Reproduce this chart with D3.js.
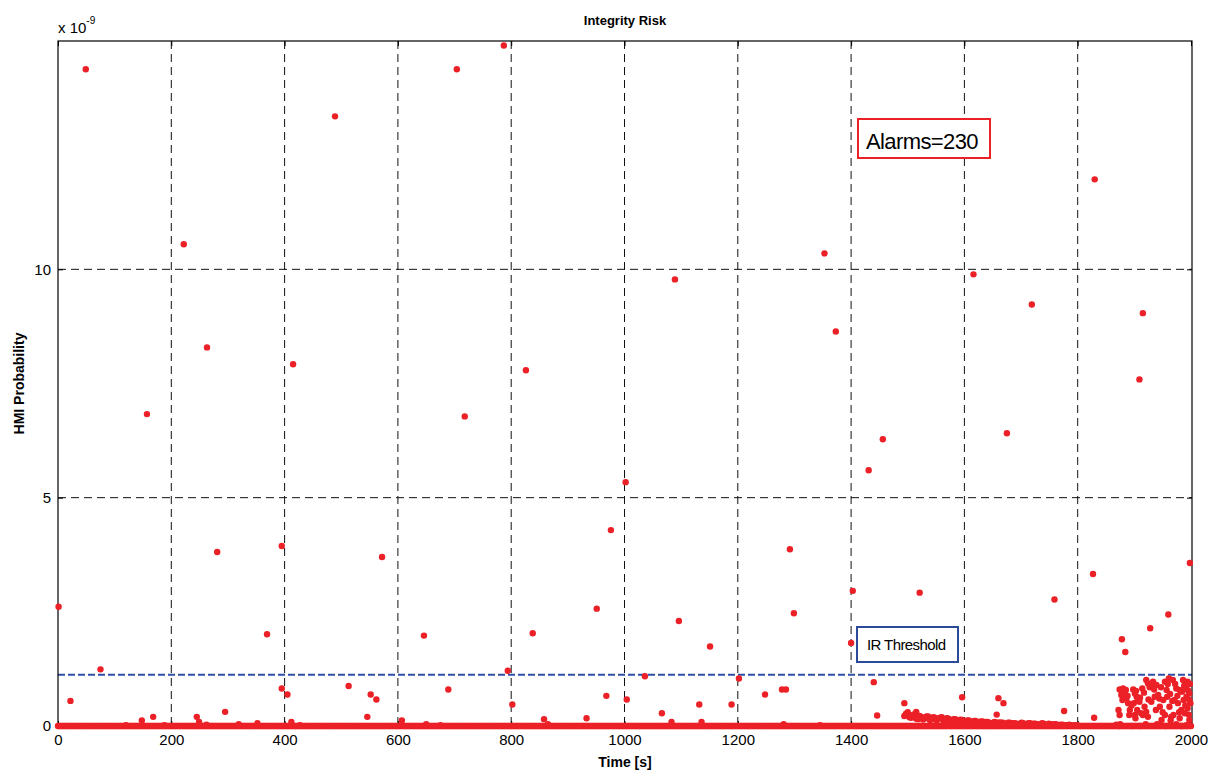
<!DOCTYPE html>
<html>
<head>
<meta charset="utf-8">
<script src="https://cdn.jsdelivr.net/npm/d3@7"></script>
<style>
  body { margin: 0; background: #fff; }
  text { font-family: "Liberation Sans", Arial, sans-serif; }
</style>
</head>
<body>
<script>
// values in units of 1e-9
var xTicks = [0, 200, 400, 600, 800, 1000, 1200, 1400, 1600, 1800, 2000];
var yTicks = [0, 5, 10];
var threshold = 1.12;
var alarms = 230;

// isolated HMI probabilities [time, value]
var outliers = [
  [1, 2.61], [22, 0.55], [49, 14.38], [75, 1.24], [120, 0.02], [148, 0.12], [157, 6.83], [168, 0.20],
  [188, 0.02], [222, 10.55], [245, 0.20], [249, 0.09], [262, 0.03], [263, 8.29], [281, 3.81], [295, 0.31],
  [319, 0.04], [352, 0.06], [369, 2.01], [395, 3.94], [395, 0.82], [405, 0.69], [412, 0.09], [415, 7.92],
  [427, 0.02], [489, 13.35], [513, 0.875], [546, 0.20], [552, 0.69], [562, 0.58], [572, 3.70], [607, 0.12],
  [646, 1.98], [650, 0.04], [675, 0.02], [689, 0.80], [704, 14.38], [718, 6.78], [787, 14.9], [794, 1.21],
  [802, 0.47], [826, 7.79], [838, 2.03], [858, 0.15], [865, 0.04], [933, 0.17], [951, 2.57], [968, 0.66],
  [976, 4.29], [1002, 5.34], [1004, 0.58], [1036, 1.09], [1066, 0.28], [1083, 0.09], [1089, 9.78], [1096, 2.30],
  [1132, 0.47], [1136, 0.09], [1151, 1.74], [1189, 0.47], [1202, 1.04], [1248, 0.69], [1278, 0.80], [1281, 0.04],
  [1285, 0.80], [1292, 3.87], [1299, 2.47], [1345, 0.02], [1353, 10.35], [1373, 8.64], [1400, 1.82], [1403, 2.96],
  [1431, 5.60], [1440, 0.96], [1446, 0.23], [1456, 6.28], [1494, 0.50], [1515, 0.31], [1521, 2.92], [1596, 0.63],
  [1616, 9.89], [1657, 0.25], [1660, 0.61], [1669, 0.50], [1675, 6.41], [1719, 9.23], [1759, 2.77], [1776, 0.33],
  [1827, 3.33], [1829, 0.18], [1830, 11.97], [1878, 1.90], [1884, 1.62], [1909, 7.59], [1915, 9.04], [1928, 2.14],
  [1960, 2.44], [1998, 3.57]
];

// small bump after t=1494, one value every 3 s
var humpStart = 1494;
var humpStep = 3;
var humpValues = [
  0.22, 0.27, 0.30, 0.19, 0.18, 0.24, 0.26, 0.16, 0.15, 0.22, 0.20, 0.14, 0.17, 0.21, 0.21, 0.13,
  0.14, 0.19, 0.18, 0.12, 0.16, 0.18, 0.19, 0.11, 0.13, 0.17, 0.16, 0.10, 0.12, 0.15, 0.15, 0.09,
  0.11, 0.14, 0.13, 0.09, 0.10, 0.12, 0.12, 0.08, 0.09, 0.11, 0.11, 0.07, 0.08, 0.10, 0.10, 0.07,
  0.09, 0.09, 0.07, 0.06, 0.06, 0.09, 0.08, 0.05, 0.08, 0.07, 0.07, 0.04, 0.05, 0.07, 0.07, 0.04,
  0.06, 0.06, 0.05, 0.04, 0.05, 0.07, 0.06, 0.03, 0.04, 0.06, 0.06, 0.03, 0.05, 0.05, 0.04, 0.03,
  0.04, 0.06, 0.05, 0.02, 0.03, 0.05, 0.04, 0.02, 0.04, 0.04, 0.03, 0.02, 0.03, 0.03, 0.02, 0.01,
  0.02, 0.03, 0.02, 0.01, 0.01, 0.02, 0.01
];

// dense cloud at the end of the run [time, value]
var cluster = [
  [1868, 0.03], [1872, 0.35], [1874, 0.24], [1875, 0.04], [1873, 0.0], [1874, 0.80], [1880, 0.82], [1885, 0.79],
  [1877, 0.68], [1881, 0.63], [1886, 0.61], [1879, 0.57], [1889, 0.50], [1892, 0.35], [1891, 0.24], [1895, 0.0],
  [1898, 0.80], [1901, 0.71], [1904, 0.64], [1906, 0.57], [1899, 0.50], [1909, 0.53], [1905, 0.35], [1901, 0.24],
  [1912, 0.28], [1909, 0.0], [1902, 0.17], [1914, 0.82], [1921, 1.01], [1924, 0.93], [1927, 0.85], [1918, 0.42],
  [1921, 0.31], [1915, 0.24], [1924, 0.20], [1930, 0.53], [1920, 0.04], [1933, 0.97], [1939, 0.90], [1942, 0.68],
  [1936, 0.64], [1945, 0.42], [1938, 0.35], [1948, 0.13], [1940, 0.04], [1954, 0.97], [1961, 1.04], [1957, 0.79],
  [1958, 0.64], [1951, 0.57], [1962, 0.42], [1954, 0.24], [1965, 0.20], [1955, 0.0], [1964, 0.12], [1968, 1.01],
  [1974, 0.82], [1980, 0.79], [1971, 0.57], [1977, 0.50], [1983, 0.35], [1969, 0.24], [1980, 0.17], [1974, 0.04],
  [1983, 0.0], [1986, 1.01], [1994, 0.97], [1991, 0.82], [1997, 0.71], [1992, 0.64], [1987, 0.57], [1997, 0.57],
  [1994, 0.39], [1989, 0.28], [1997, 0.13], [1992, 0.02], [1878, 0.75], [1883, 0.70], [1888, 0.66], [1895, 0.45],
  [1903, 0.77], [1910, 0.62], [1917, 0.73], [1925, 0.58], [1931, 0.88], [1935, 0.80], [1944, 0.60], [1947, 0.85],
  [1950, 0.30], [1959, 0.92], [1963, 0.70], [1967, 0.55], [1972, 0.92], [1976, 0.66], [1979, 0.30], [1984, 0.75],
  [1988, 0.88], [1990, 0.45], [1995, 0.78], [1998, 0.92], [1999, 0.50], [1996, 0.25]
];

var W = 1219, H = 774;
var mLeft = 58, mRight = 1192, mTop = 41, mBottom = 726;
var red = "#ec2027";

var x = d3.scaleLinear().domain([0, 2000]).range([mLeft, mRight - 1]);
var y = d3.scaleLinear().domain([0, 15]).range([mBottom, mTop]);

var svg = d3.select("body").append("svg")
  .attr("width", W)
  .attr("height", H);

// grid
svg.selectAll(".vgrid").data(xTicks.slice(1, -1)).enter().append("line")
  .attr("x1", d => x(d)).attr("x2", d => x(d))
  .attr("y1", mTop).attr("y2", mBottom)
  .attr("stroke", "#111").attr("stroke-width", 1).attr("stroke-dasharray", "8,5");
svg.selectAll(".hgrid").data(yTicks.slice(1)).enter().append("line")
  .attr("x1", mLeft).attr("x2", mRight)
  .attr("y1", d => y(d)).attr("y2", d => y(d))
  .attr("stroke", "#111").attr("stroke-width", 1).attr("stroke-dasharray", "8,5");

// threshold
svg.append("line")
  .attr("x1", mLeft).attr("x2", mRight)
  .attr("y1", y(threshold)).attr("y2", y(threshold))
  .attr("stroke", "#2f4fa8").attr("stroke-width", 2).attr("stroke-dasharray", "7,3");

// frame
svg.append("rect")
  .attr("x", mLeft).attr("y", mTop)
  .attr("width", mRight - mLeft).attr("height", mBottom - mTop)
  .attr("fill", "none").attr("stroke", "#000").attr("stroke-width", 1.2);

// axes with inward ticks
svg.append("g").attr("transform", "translate(0," + mBottom + ")")
  .call(d3.axisBottom(x).tickValues(xTicks).tickFormat(d3.format("d")).tickSizeInner(-5).tickSizeOuter(0).tickPadding(8))
  .call(g => g.select(".domain").remove())
  .selectAll("text").style("font-size", "15px").attr("fill", "#000");
svg.append("g").attr("transform", "translate(" + mLeft + ",0)")
  .call(d3.axisLeft(y).tickValues(yTicks).tickSizeInner(-5).tickSizeOuter(0).tickPadding(7))
  .call(g => g.select(".domain").remove())
  .selectAll("text").style("font-size", "15px").attr("fill", "#000");
svg.append("g").attr("transform", "translate(0," + mTop + ")")
  .call(d3.axisTop(x).tickValues(xTicks).tickSizeInner(-5).tickSizeOuter(0).tickFormat(""))
  .call(g => g.select(".domain").remove());
svg.append("g").attr("transform", "translate(" + mRight + ",0)")
  .call(d3.axisRight(y).tickValues(yTicks).tickSizeInner(-5).tickSizeOuter(0).tickFormat(""))
  .call(g => g.select(".domain").remove());

// points: zero baseline, bump, cluster, outliers (drawn over the frame)
var baseline = d3.range(0, 2001, 2).map(t => [t, 0]);
var hump = humpValues.map((v, i) => [humpStart + i * humpStep, v]);
var pts = baseline.concat(hump, cluster, outliers);

svg.selectAll(".pt").data(pts).enter().append("circle")
  .attr("cx", d => x(d[0]))
  .attr("cy", d => y(d[1]))
  .attr("r", 3.2)
  .attr("fill", red);

// exponent
var ex = svg.append("text").attr("x", mLeft).attr("y", 33).style("font-size", "15px");
ex.append("tspan").text("x 10");
ex.append("tspan").attr("dy", -9).style("font-size", "10px").text("-9");

// titles
svg.append("text").attr("x", 625).attr("y", 25).attr("text-anchor", "middle")
  .style("font-size", "13px").style("font-weight", "bold").text("Integrity Risk");
svg.append("text").attr("x", 625).attr("y", 767).attr("text-anchor", "middle")
  .style("font-size", "14px").style("font-weight", "bold").text("Time [s]");
svg.append("text").attr("transform", "translate(24," + ((mTop + mBottom) / 2) + ") rotate(-90)")
  .attr("text-anchor", "middle")
  .style("font-size", "14px").style("font-weight", "bold").text("HMI Probability");

// annotations
svg.append("rect").attr("x", 858).attr("y", 119).attr("width", 132).attr("height", 39)
  .attr("fill", "#fff").attr("stroke", red).attr("stroke-width", 2);
svg.append("text").attr("x", 866).attr("y", 149).style("font-size", "22px").style("letter-spacing", "-0.6px")
  .text("Alarms=" + alarms);

svg.append("rect").attr("x", 857).attr("y", 627).attr("width", 101).attr("height", 35)
  .attr("fill", "#fff").attr("stroke", "#2b4a9a").attr("stroke-width", 2);
svg.append("text").attr("x", 867).attr("y", 650).style("font-size", "15px").style("letter-spacing", "-0.6px")
  .text("IR Threshold");
</script>
</body>
</html>
